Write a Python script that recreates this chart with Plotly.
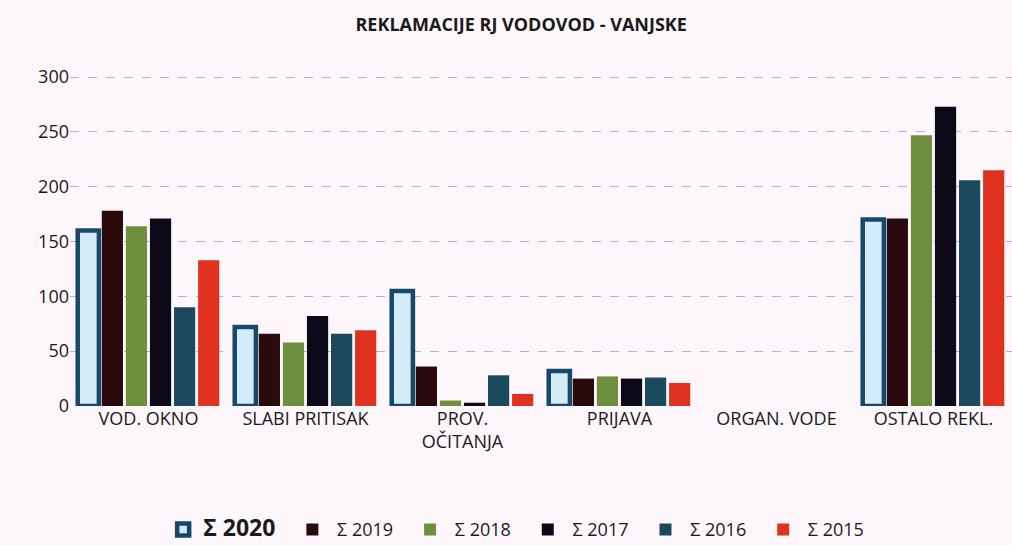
import plotly.graph_objects as go

categories = ["VOD. OKNO", "SLABI PRITISAK", "PROV.<br>OČITANJA", "PRIJAVA", "ORGAN. VODE", "OSTALO REKL."]
series_names = ["Σ 2020", "Σ 2019", "Σ 2018", "Σ 2017", "Σ 2016", "Σ 2015"]
v2020 = [160, 72, 105, 32, 0, 170]
v2019 = [178, 66, 36, 25, 0, 171]
v2018 = [164, 58, 5, 27, 0, 247]
v2017 = [171, 82, 3, 25, 0, 273]
v2016 = [90, 66, 28, 26, 0, 206]
v2015 = [133, 69, 11, 21, 0, 215]
y_ticks = [0, 50, 100, 150, 200, 250, 300]

values = [v2020, v2019, v2018, v2017, v2016, v2015]
fills = ["#d4ecf8", "#2a0a0c", "#6f8f3e", "#0c0a18", "#1b4a5c", "#e0321f"]
lines = ["#17486a", "#2a0a0c", "#6f8f3e", "#0c0a18", "#1b4a5c", "#e0321f"]
lwidths = [4.5, 0, 0, 0, 0, 0]

fig = go.Figure()
for i, (name, vals) in enumerate(zip(series_names, values)):
    label = " " + name + "\u2002\u2009"
    if i == 0:
        label = "<b><span style='font-size:23px'>" + name + "</span></b>\u2002\u2009"
    fig.add_trace(go.Bar(
        x=categories, y=vals, name=label,
        marker=dict(color=fills[i],
                    line=dict(color=lines[i], width=[lwidths[i] if v > 0 else 0 for v in vals])),
    ))

fig.update_layout(
    width=1012, height=545,
    paper_bgcolor="#fdf7fc", plot_bgcolor="#fdf7fc",
    font=dict(family="Open Sans, Liberation Sans, sans-serif", color="#1a1a1a", size=18),
    title=dict(text="<b>REKLAMACIJE RJ VODOVOD - VANJSKE</b>", x=0.515, xanchor="center",
               y=0.955, yanchor="middle", font=dict(size=18, color="#1a1a1a")),
    margin=dict(l=70, r=0, t=76, b=139),
    barmode="group", bargap=0.08, bargroupgap=0.12,
    showlegend=True,
    legend=dict(orientation="h", x=0.48, xanchor="center", yref="container", y=0.028, yanchor="middle",
                font=dict(size=18), itemwidth=30, traceorder="normal",
                bgcolor="rgba(0,0,0,0)"),
)
fig.update_yaxes(range=[0, 301], tickvals=y_ticks, showgrid=True,
                 gridcolor="#c9a6d6", griddash="dash", gridwidth=1,
                 zeroline=False, showline=False, ticks="", ticklen=0,
                 tickfont=dict(size=18, color="#1a1a1a"))
fig.update_xaxes(showline=False, ticks="", tickfont=dict(size=18, color="#1a1a1a"))

fig.write_html("out.html", config={"displayModeBar": False},
               post_script="document.body.style.margin='0';")
